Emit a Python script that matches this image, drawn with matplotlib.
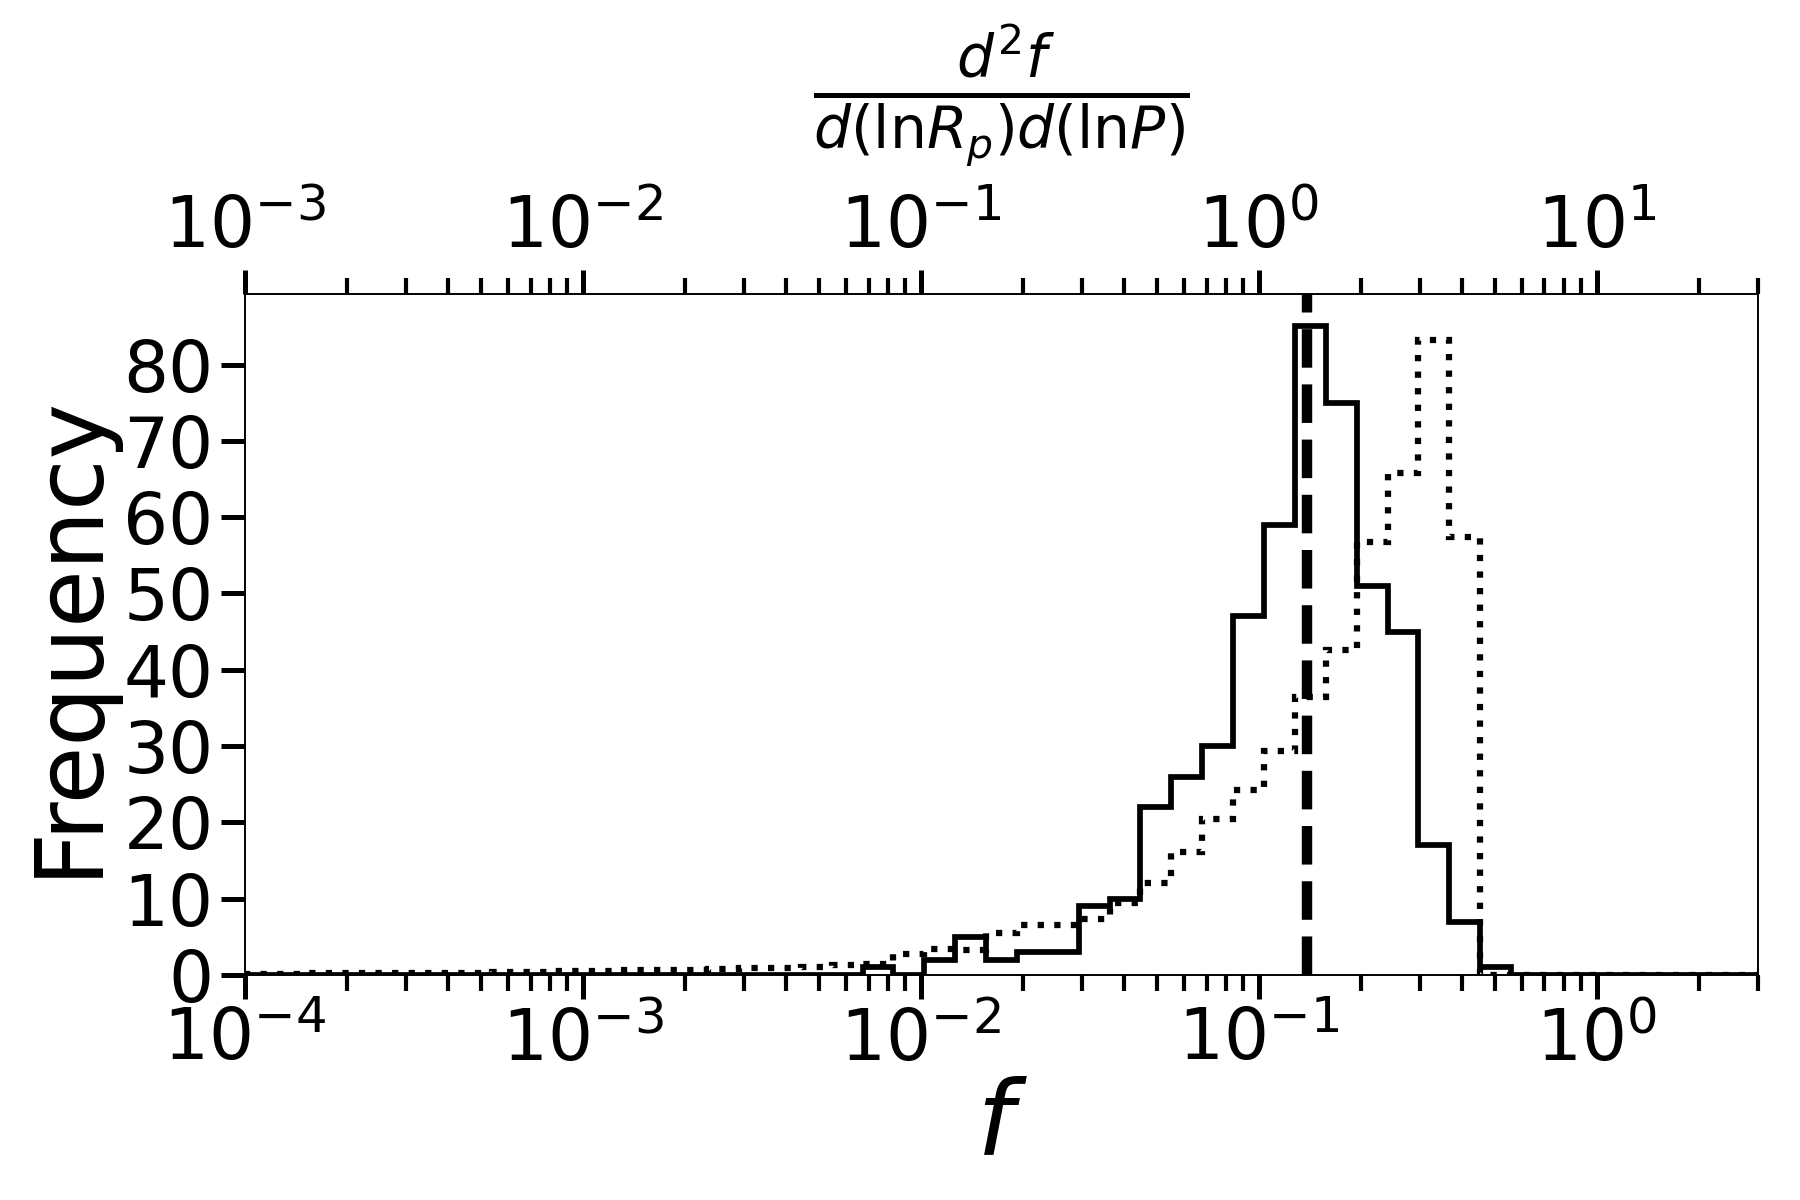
import numpy as np
import matplotlib
matplotlib.use("Agg")
import matplotlib.pyplot as plt

# log-spaced bins, 1e-4 .. 3, 49 bins
bin_edges = np.logspace(-4, np.log10(3), 50)

# solid histogram (counts per bin)
solid_counts = [0, 0, 0, 0, 0, 0, 0, 0, 0, 0,
                0, 0, 0, 0, 0, 0, 0, 0, 0, 0,
                1, 0, 2, 5, 2, 3, 3, 9, 10, 22,
                26, 30, 47, 59, 85, 75, 51, 45, 17, 7,
                1, 0, 0, 0, 0, 0, 0, 0, 0]

# dotted histogram (weighted counts per bin)
dotted_counts = [0.1, 0.1, 0.2, 0.2, 0.2, 0.3, 0.3, 0.3, 0.4, 0.4,
                 0.5, 0.5, 0.6, 0.6, 0.7, 0.8, 0.9, 0.9, 1.0, 1.3,
                 1.5, 2.8, 3.4, 3.3, 5.5, 6.5, 6.5, 7.3, 9.5, 12.1,
                 16.1, 20.5, 24.3, 29.4, 36.4, 42.6, 56.7, 65.8, 83.2, 57.4,
                 0, 0, 0, 0, 0, 0, 0, 0, 0]

f_median = 0.139
x_range = (1e-4, 3)
top_range = (1e-3, 30)

fig = plt.figure(figsize=(12, 8), dpi=150)
ax = fig.add_axes([0.1361, 0.1875, 0.8406, 0.5675])

ax.hist(bin_edges[:-1], bins=bin_edges, weights=solid_counts,
        histtype='step', color='black', linewidth=2.75)
ax.hist(bin_edges[:-1], bins=bin_edges, weights=dotted_counts,
        histtype='step', color='black', linewidth=3, linestyle=':')
ax.axvline(f_median, color='black', linestyle='--', linewidth=5)

ax.set_xscale('log')
ax.set_xlim(*x_range)
ax.set_yticks(range(0, 90, 10))
ax.set_xlabel('$f$', fontsize=50, labelpad=0)
ax.set_ylabel('Frequency', fontsize=45, labelpad=4)
ax.tick_params(axis='both', which='major', labelsize=34, length=11.5, width=2.4)
ax.tick_params(axis='x', which='minor', length=7.7, width=2)

top = ax.twiny()
top.set_xscale('log')
top.set_xlim(*top_range)
top.tick_params(axis='x', which='major', labelsize=34, length=11.5, width=2.4)
top.tick_params(axis='x', which='minor', length=7.7, width=2)
top.set_xlabel(r'$\frac{d^2f}{d(\mathrm{ln}R_p)d(\mathrm{ln}P)}$', fontsize=40, labelpad=38)

fig.savefig('out.png', dpi=150)
